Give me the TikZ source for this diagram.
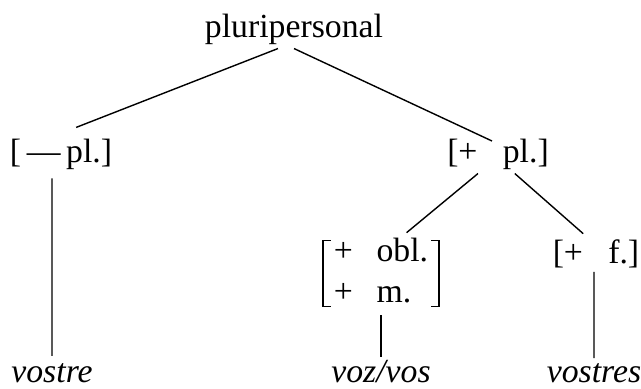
\documentclass[tikz,border=0pt]{standalone}
\usepackage{fontspec}
\setmainfont{Liberation Serif}
\begin{document}
\begin{tikzpicture}[
    font=\fontsize{12}{14.5}\selectfont,
    feat/.style={inner sep=1pt, anchor=base},
    word/.style={feat, font=\fontsize{12}{14.5}\selectfont\itshape},
    edge/.style={line width=0.5pt},
    brk/.style={line width=0.6pt},
  ]
    \useasboundingbox (0,0) rectangle (8.0125,4.8625);

    % Nodes -- top to bottom
    \node[feat] (root)  at (3.675,4.3875) {pluripersonal};
    \node[feat] (minus) at (0.7625,2.825) {[\,—\,pl.]};
    \node[feat] (plus)  at (6.225,2.825)  {[+\enspace\ pl.]};
    \node[inner sep=0pt] (obl) at (4.7625,1.4375)
      {\begin{tabular}{@{}l@{\hspace{0.7em}}l@{}}+ & obl.\\+ & m.\end{tabular}};
    \node[feat] (fem)   at (7.45,1.5625)  {[+\enspace\ f.]};
    \node[word] (vostre)  at (0.65,0.075)   {vostre};
    \node[word] (vozvos)  at (4.7625,0.075) {voz/vos};
    \node[word] (vostres) at (7.425,0.075)  {vostres};

    % Brackets round the matrix
    \draw[brk] ([xshift=-0.035cm,yshift=-0.1cm]obl.north west)
      -- ++(-0.09,0) -- ++(0,-0.825) -- ++(0.09,0);
    \draw[brk] ([xshift=0.035cm,yshift=-0.1cm]obl.north east)
      -- ++(0.09,0) -- ++(0,-0.825) -- ++(-0.09,0);

    % Connections
    \draw[edge] ([xshift=-2mm]root.south) -- ([xshift=1.9mm,yshift=1.1mm]minus.north);
    \draw[edge] (root.south) -- ([xshift=-0.75mm,yshift=-0.6mm]plus.north);
    \draw[edge] ([xshift=-1.125mm,yshift=-0.6mm]minus.south) -- ([yshift=0.6mm]vostre.north);
    \draw[edge] ([xshift=-2.5mm]plus.south) -- ([xshift=3.2mm]obl.north);
    \draw[edge] ([xshift=2.1mm]plus.south) -- ([xshift=-1.6mm,yshift=0.4mm]fem.north);
    \draw[edge] (obl.south) -- (vozvos.north);
    \draw[edge] ([xshift=-0.25mm]fem.south) -- ([yshift=0.3mm]vostres.north);
\end{tikzpicture}
\end{document}
